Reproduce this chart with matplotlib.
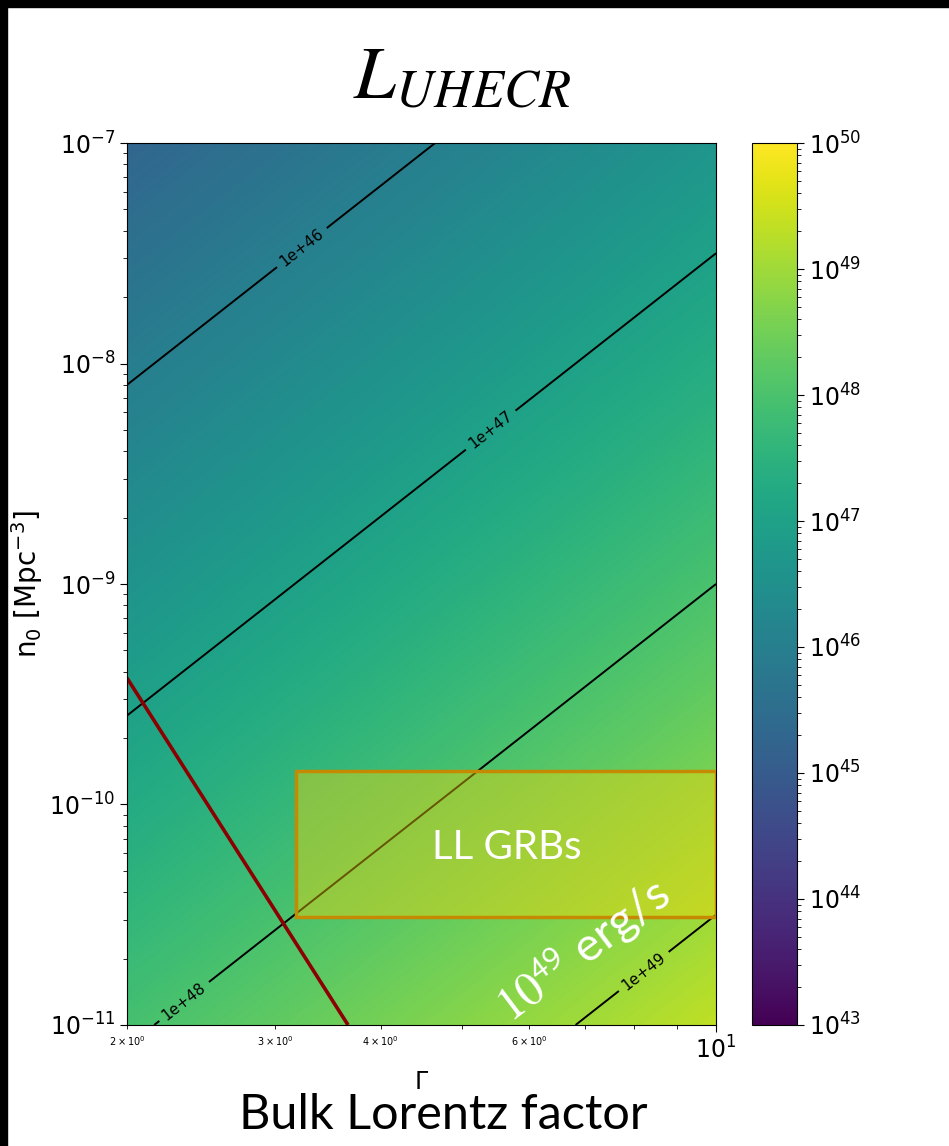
import numpy as np
import matplotlib
matplotlib.use("Agg")
import matplotlib.pyplot as plt
from matplotlib.colors import LogNorm
from matplotlib.patches import Rectangle

# parameter ranges
gamma_range = [2.0, 10.0]
n0_range = [1e-11, 1e-7]

# L_UHECR ~ 10^logC * Gamma^a * n0^b
log_norm_const = 40.0
gamma_exp = 2.0
n0_exp = -2.0 / 3.0

# contour levels of luminosity [erg/s]
lum_levels = [1e46, 1e47, 1e48, 1e49]
label_pos = [(3.30, 3.0e-8), (5.47, 4.7e-9), (2.33, 1.3e-11), (8.36, 1.6e-11)]

# red curve: Gamma^6 * n0 = const
red_exp = 6.0
red_level = 10 ** -7.62

# LL GRB region
llgrb_gamma = [3.17, 10.0]
llgrb_n0 = [3.1e-11, 1.42e-10]

G = np.logspace(np.log10(gamma_range[0]), np.log10(gamma_range[1]), 400)
N = np.logspace(np.log10(n0_range[0]), np.log10(n0_range[1]), 400)
GG, NN = np.meshgrid(G, N)
L = 10 ** log_norm_const * GG ** gamma_exp * NN ** n0_exp

fig = plt.figure(figsize=(9.49, 11.46), dpi=100)
ax = fig.add_axes([0.1338, 0.1056, 0.6207, 0.7696])
cax = fig.add_axes([0.7924, 0.1056, 0.0474, 0.7696])

# log scales first so contour labels sit on the lines
ax.set_xscale("log")
ax.set_yscale("log")
ax.set_xlim(gamma_range)
ax.set_ylim(n0_range)

norm = LogNorm(vmin=1e43, vmax=1e50)
pc = ax.pcolormesh(GG, NN, L, cmap="viridis", norm=norm, shading="gouraud")
cs = ax.contour(GG, NN, L, levels=lum_levels, colors="black", linewidths=1.4)
ax.clabel(cs, fmt="%1.0e", fontsize=11, manual=label_pos, inline_spacing=6)
ax.contour(GG, NN, GG ** red_exp * NN, levels=[red_level], colors="#8b0000", linewidths=2.6)

ax.add_patch(Rectangle((llgrb_gamma[0], llgrb_n0[0]),
                       llgrb_gamma[1] - llgrb_gamma[0], llgrb_n0[1] - llgrb_n0[0],
                       facecolor=(1.0, 0.84, 0.0, 0.4), edgecolor="#c68a00",
                       linewidth=2.5, zorder=5))

ax.set_xlim(gamma_range)
ax.set_ylim(n0_range)
ax.tick_params(which="major", labelsize=17, length=5)
ax.tick_params(which="minor", labelsize=7, length=3)
ax.set_xlabel(r"$\Gamma$", fontsize=17, labelpad=4)
ax.set_ylabel(r"n$_0$ [Mpc$^{-3}$]", fontsize=20, labelpad=3)

cb = fig.colorbar(pc, cax=cax)
cb.ax.tick_params(which="major", labelsize=17, length=5)
cb.ax.tick_params(which="minor", length=3)

# overlay texts
ax.text(5.65, 6.35e-11, "LL GRBs", color="white", fontsize=29, family="Lato",
        ha="center", va="center", zorder=6)
ax.text(6.95, 2.2e-11, r"$10^{\mathsf{49}}$ erg/s", color="white", fontsize=34,
        family="Lato", math_fontfamily="stix", rotation=37,
        ha="center", va="center", zorder=6)

fig.text(0.487, 0.932, r"$L_{UHECR}$", fontsize=54, math_fontfamily="stix",
         ha="center", va="center")
fig.text(0.467, 0.027, "Bulk Lorentz factor", fontsize=35, family="Lato",
         ha="center", va="center")

# black frame strips along top and left edge
fig.patches.append(Rectangle((0, 1 - 7 / 1146), 1, 7 / 1146, transform=fig.transFigure,
                             color="black", zorder=10))
fig.patches.append(Rectangle((0, 0), 7 / 949, 1, transform=fig.transFigure,
                             color="black", zorder=10))

fig.savefig("out.png", dpi=100)
